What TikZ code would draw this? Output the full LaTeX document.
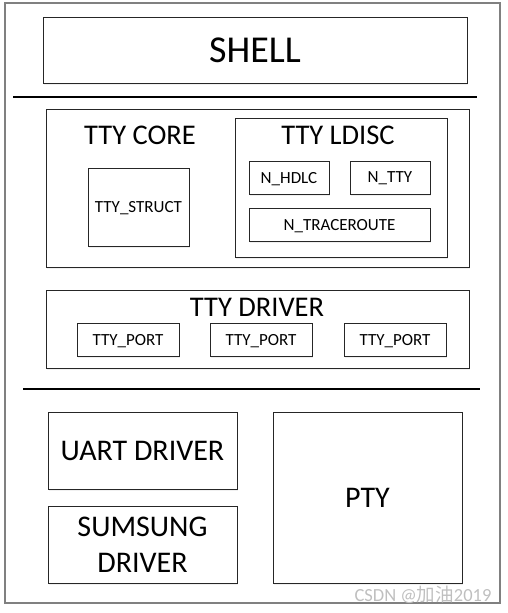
\documentclass[tikz,border=0pt]{standalone}
\usepackage{fontspec}
\setmainfont{Carlito}
\newfontfamily\cjk{Noto Sans CJK SC}
\usetikzlibrary{shadows}
\tikzset{
	blk/.style={draw=black!85, line width=0.9pt, fill=white, rectangle, inner sep=0pt,
		drop shadow={opacity=0.12, shadow xshift=1.2pt, shadow yshift=-1.5pt}},
	big/.style={font=\fontsize{38}{40}\selectfont},
	mid/.style={font=\fontsize{28.5}{30}\selectfont},
	lay/.style={font=\fontsize{30}{36}\selectfont, align=center},
	sml/.style={font=\fontsize{17}{19}\selectfont, text depth=0pt},
	sep/.style={line width=1.5pt, black}
}
\begin{document}
\begin{tikzpicture}[x=1pt, y=-1pt]
			%%%%% START %%%%%
			\useasboundingbox (0, 0) rectangle (507, 613);
			
			\draw[line width=1.4pt, color=black!50] (5, 3) rectangle (500, 603);
			
			\node[blk, big, minimum width=424, minimum height=66] (shell) at (255, 50) {SHELL};
			\draw[sep] (13, 97) -- (477, 97);
			
			\node[blk, minimum width=423, minimum height=158] (core) at (257.5, 188) {};
			\node[mid] (corelbl) at (140, 135) {TTY CORE};
			\node[blk, sml, minimum width=101, minimum height=78] (struct) at (138.5, 207) {TTY\_STRUCT};
			
			\node[blk, minimum width=212, minimum height=139] (ldisc) at (341, 187.5) {};
			\node[mid] (ldisclbl) at (338, 135) {TTY LDISC};
			\node[blk, sml, minimum width=80, minimum height=33] (hdlc) at (289, 177.5) {N\_HDLC};
			\node[blk, sml, minimum width=80, minimum height=33] (ntty) at (390, 177.5) {N\_TTY};
			\node[blk, sml, minimum width=181, minimum height=33] (trace) at (339.5, 224.5) {N\_TRACEROUTE};
			
			\node[blk, minimum width=423, minimum height=78] (driver) at (257.5, 329) {};
			\node[mid] (driverlbl) at (257, 307) {TTY DRIVER};
			\foreach \i/\x in {1/128, 2/261, 3/395}
				\node[blk, sml, minimum width=102, minimum height=33] (port\i) at (\x, 339.5) {TTY\_PORT};
			
			\draw[sep] (23, 389) -- (480, 389);
			
			\node[blk, lay, minimum width=189, minimum height=77] (uart) at (142.5, 450.5) {UART DRIVER};
			\node[blk, lay, minimum width=189, minimum height=77] (sumsung) at (142.5, 544.5) {SUMSUNG\\DRIVER};
			\node[blk, lay, minimum width=189, minimum height=171] (pty) at (367.5, 497.5) {PTY};
			
			\node[color=black!25, font=\fontsize{18.5}{19}\selectfont] (mark) at (423, 595) {CSDN @{\cjk 加油}2019};
			%%%%% END %%%%%
\end{tikzpicture}
\end{document}
